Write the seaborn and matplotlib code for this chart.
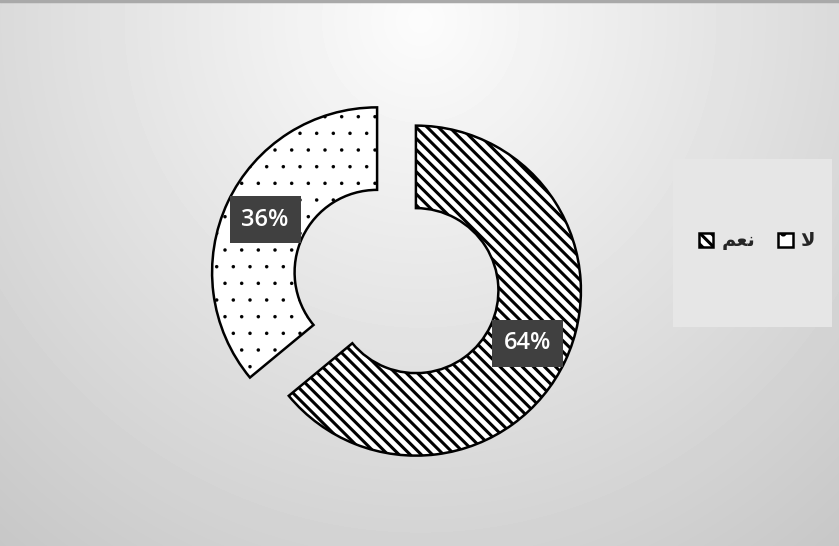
import numpy as np
import matplotlib
matplotlib.use("Agg")
import matplotlib.pyplot as plt
import seaborn as sns
from matplotlib.patches import Rectangle

# ---- data ----
categories = ["نعم", "لا"]
values = [64, 36]
hatches = ["\\\\\\", "."]
explode = [0.13, 0.13]

# visual (presentation-form, left-to-right) rendering of the Arabic labels
DISPLAY = {"نعم": "\uFEE2\uFECC\uFEE7", "لا": "\uFEFB"}

sns.set_theme(style="white")
plt.rcParams["font.family"] = ["DejaVu Sans"]
plt.rcParams["hatch.linewidth"] = 2.2

W, H = 839, 546
fig = plt.figure(figsize=(W / 100, H / 100), dpi=100)

# background gradient
bg = fig.add_axes([0, 0, 1, 1])
bg.set_axis_off()
yy, xx = np.mgrid[0:H, 0:W]
d = np.hypot((xx - 420) / 520, (yy - 20) / 540)
v = np.clip(252 - 42 * d, 196, 255) / 255
bg.imshow(v, cmap="gray", vmin=0, vmax=1, aspect="auto",
          extent=[0, W, H, 0], interpolation="bilinear")
bg.set_xlim(0, W)
bg.set_ylim(H, 0)
bg.add_patch(Rectangle((673, 159), 159, 168, facecolor="#e6e6e6", edgecolor="none"))
bg.axhline(1, color="#a9a9a9", lw=2.5)

# donut
R = 165.0
cx, cy = 396.5, 281.5
ax = fig.add_axes([0, 0, 1, 1])
ax.set_axis_off()
wedges, texts, autotexts = ax.pie(
    values, startangle=90, counterclock=False, explode=explode,
    colors=["white", "white"],
    wedgeprops=dict(width=0.5, edgecolor="black", linewidth=1.8),
    autopct="%1.0f%%", pctdistance=0.75,
)
for w, h in zip(wedges, hatches):
    w.set_hatch(h)
if hasattr(wedges[1], "set_hatch_linewidth"):
    wedges[1].set_hatch_linewidth(0.1)
for t in autotexts:
    t.set_color("white")
    t.set_fontsize(17)
    t.set_fontweight("semibold")
    t.set_family(["Open Sans", "DejaVu Sans"])
    t.set_bbox(dict(boxstyle="square,pad=0.5", facecolor="#404040", edgecolor="none"))
ax.set_aspect("auto")
ax.set_xlim(-cx / R, (W - cx) / R)
ax.set_ylim(-(H - cy) / R, cy / R)

# legend
fig.legend(wedges, [DISPLAY[c] for c in categories], loc="center",
           bbox_to_anchor=(757 / W, 1 - 241 / H), ncol=2, frameon=False,
           handlelength=0.75, handleheight=0.75, handletextpad=0.4,
           columnspacing=1.2,
           prop={"family": "DejaVu Sans", "weight": "bold", "size": 14})

fig.savefig("out.png", dpi=100)
